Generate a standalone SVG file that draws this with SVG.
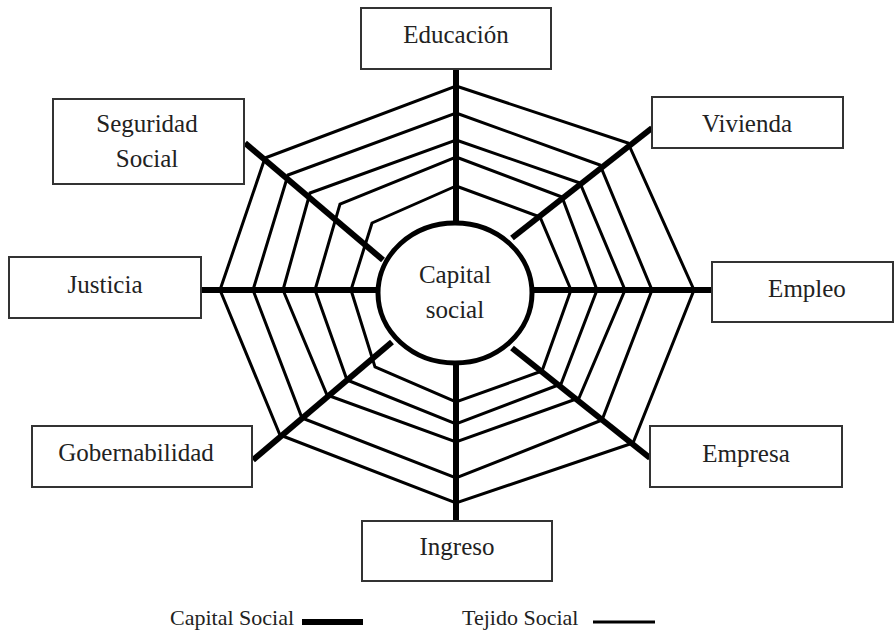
<svg xmlns="http://www.w3.org/2000/svg" width="896" height="633" viewBox="0 0 896 633">
<style>
.box{fill:#fff;stroke:#333;stroke-width:2}
.lbl{font-family:'Liberation Serif','DejaVu Serif',serif;font-size:25px;fill:#222;text-anchor:middle}
.leg{font-family:'Liberation Serif','DejaVu Serif',serif;font-size:22px;fill:#222}
.ring{fill:none;stroke:#000;stroke-width:3;stroke-linejoin:miter}
.spoke{stroke:#000;stroke-width:6;stroke-linecap:butt}
</style>
<rect width="896" height="633" fill="#fff"/>
<g id="web">
<polygon class="ring" points="456,86 628,143 694,290 633,443 456,503 280,435 220,290 265,158"/>
<polygon class="ring" points="456,113 600,165 652,290 602,420 456,478 302,418 253,290 288,175"/>
<polygon class="ring" points="456,140 580,183 625,290 579,398 456,442 327,395 283,290 310,193"/>
<polygon class="ring" points="456,157 562,197 597,290 561,384 456,424 347,380 315,290 340,204"/>
<polygon class="ring" points="456,186 540,217 571,290 542,371 456,402 375,367 351,290 372,223"/>
</g>
<g id="connectors">
<line class="spoke" x1="456" y1="69" x2="456" y2="224"/>
<line class="spoke" x1="652" y1="128" x2="512" y2="238"/>
<line class="spoke" x1="532" y1="290" x2="712" y2="290"/>
<line class="spoke" x1="512" y1="348" x2="650" y2="458"/>
<line class="spoke" x1="456" y1="362" x2="456" y2="521"/>
<line class="spoke" x1="253" y1="460" x2="392" y2="342"/>
<line class="spoke" x1="201" y1="290" x2="380" y2="290"/>
<line class="spoke" x1="245" y1="143" x2="383" y2="260"/>
</g>
<g id="center">
<ellipse cx="455" cy="293" rx="77" ry="70" fill="#fff" stroke="#000" stroke-width="5"/>
<text class="lbl" x="455" y="283" font-family="Liberation Serif, serif">Capital</text>
<text class="lbl" x="455" y="318" font-family="Liberation Serif, serif">social</text>
</g>
<g id="educacion">
<rect class="box" x="361" y="8" width="190" height="61"/>
<text class="lbl" x="456" y="43">Educación</text>
</g>
<g id="vivienda">
<rect class="box" x="652" y="97" width="191" height="51"/>
<text class="lbl" x="747" y="132">Vivienda</text>
</g>
<g id="empleo">
<rect class="box" x="712" y="262" width="181" height="60"/>
<text class="lbl" x="807" y="297">Empleo</text>
</g>
<g id="empresa">
<rect class="box" x="650" y="426" width="192" height="61"/>
<text class="lbl" x="746" y="462">Empresa</text>
</g>
<g id="ingreso">
<rect class="box" x="362" y="521" width="190" height="60"/>
<text class="lbl" x="457" y="555">Ingreso</text>
</g>
<g id="gobernabilidad">
<rect class="box" x="32" y="426" width="220" height="61"/>
<text class="lbl" x="136" y="461">Gobernabilidad</text>
</g>
<g id="justicia">
<rect class="box" x="9" y="257" width="192" height="61"/>
<text class="lbl" x="105" y="293">Justicia</text>
</g>
<g id="seguridad">
<rect class="box" x="53" y="99" width="191" height="85"/>
<text class="lbl" x="147" y="132">Seguridad</text>
<text class="lbl" x="147" y="167">Social</text>
</g>
<g id="legend">
<text class="leg" x="170" y="625">Capital Social</text>
<line x1="302" y1="622" x2="363" y2="622" stroke="#000" stroke-width="6"/>
<text class="leg" x="462" y="625">Tejido Social</text>
<line x1="593" y1="622" x2="655" y2="622" stroke="#000" stroke-width="3"/>
</g>
</svg>
